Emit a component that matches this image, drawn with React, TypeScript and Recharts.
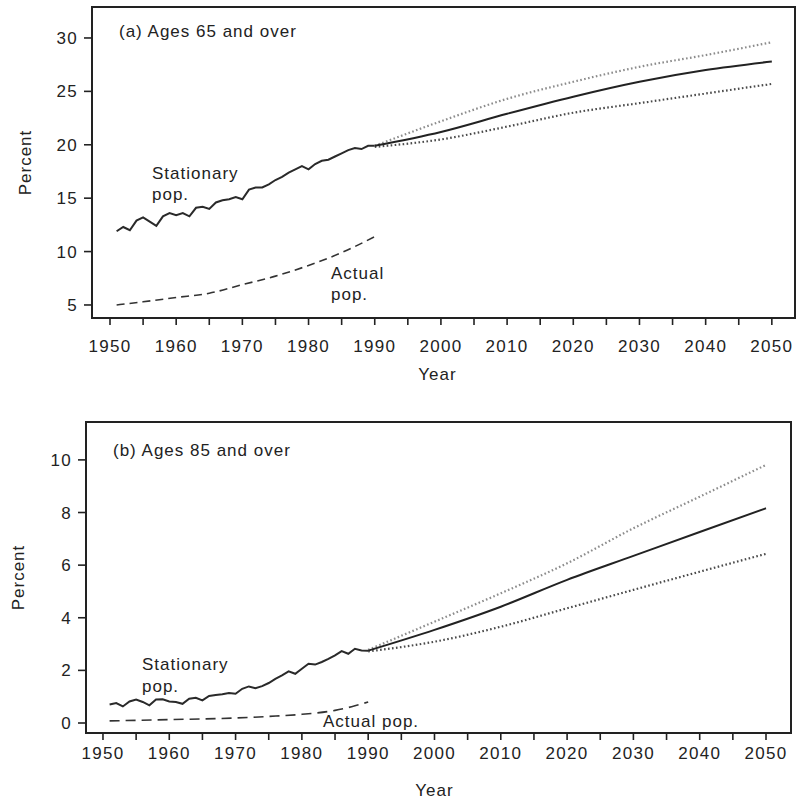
import { LineChart, Line, XAxis, YAxis, ReferenceArea } from "recharts";

const histYears = [
  1951, 1952, 1953, 1954, 1955, 1956, 1957, 1958, 1959, 1960,
  1961, 1962, 1963, 1964, 1965, 1966, 1967, 1968, 1969, 1970,
  1971, 1972, 1973, 1974, 1975, 1976, 1977, 1978, 1979, 1980,
  1981, 1982, 1983, 1984, 1985, 1986, 1987, 1988, 1989, 1990,
];

// (a) ages 65 and over
const stationaryA = [
  11.9, 12.3, 12.0, 12.9, 13.2, 12.8, 12.4, 13.3, 13.6, 13.4,
  13.6, 13.3, 14.1, 14.2, 14.0, 14.6, 14.8, 14.9, 15.1, 14.9,
  15.8, 16.0, 16.0, 16.3, 16.7, 17.0, 17.4, 17.7, 18.0, 17.7,
  18.2, 18.5, 18.6, 18.9, 19.2, 19.5, 19.7, 19.6, 19.9, 19.9,
];
const actualYearsA = [1951, 1955, 1960, 1965, 1970, 1975, 1980, 1985, 1990];
const actualA = [5.0, 5.3, 5.7, 6.1, 6.9, 7.7, 8.7, 9.9, 11.4];

const projYears = [1990, 2000, 2010, 2020, 2030, 2040, 2050];
const middleA = [19.9, 21.2, 22.9, 24.5, 25.9, 27.0, 27.8];
const highA = [19.9, 22.2, 24.3, 25.9, 27.3, 28.4, 29.6];
const lowA = [19.8, 20.5, 21.7, 23.0, 23.9, 24.8, 25.7];

// (b) ages 85 and over
const stationaryB = [
  0.7, 0.76, 0.63, 0.82, 0.89, 0.8, 0.67, 0.89, 0.9, 0.82,
  0.8, 0.73, 0.92, 0.96, 0.86, 1.03, 1.06, 1.09, 1.14, 1.11,
  1.3, 1.39, 1.32, 1.4, 1.52, 1.68, 1.81, 1.96, 1.87, 2.06,
  2.25, 2.22, 2.32, 2.44, 2.57, 2.73, 2.63, 2.82, 2.76, 2.75,
];
const actualYearsB = [1951, 1960, 1970, 1975, 1980, 1985, 1987.5, 1990];
const actualB = [0.08, 0.13, 0.19, 0.25, 0.33, 0.48, 0.62, 0.8];

const middleB = [2.75, 3.54, 4.42, 5.44, 6.35, 7.26, 8.16];
const highB = [2.78, 3.85, 4.93, 6.07, 7.4, 8.6, 9.81];
const lowB = [2.72, 3.09, 3.66, 4.36, 5.06, 5.75, 6.43];

const yearTicks = [
  1950, 1955, 1960, 1965, 1970, 1975, 1980, 1985, 1990, 1995, 2000,
  2005, 2010, 2015, 2020, 2025, 2030, 2035, 2040, 2045, 2050,
];
const percentTicksA = [5, 10, 15, 20, 25, 30];
const percentTicksB = [0, 2, 4, 6, 8, 10];

const FONT = '"Liberation Sans", Arial, Helvetica, sans-serif';
const INK = "#222";

const rows = (xs: number[], ys: number[]) =>
  xs.map((year, i) => ({ year, value: ys[i] }));

const tickStyle = { fontSize: 17, letterSpacing: 1.3, fill: INK, fontFamily: FONT };
const noteStyle = { fontSize: 17, letterSpacing: 1, fill: INK, fontFamily: FONT };

type PanelProps = {
  height: number;
  top: number;
  right: number;
  yAxisWidth: number;
  xAxisHeight: number;
  bottom: number;
  xDomain: [number, number];
  yDomain: [number, number];
  yTicks: number[];
  xTickMargin: number;
  yearOffset: number;
  yearDx: number;
  percentX: number;
  stationary: number[];
  actualYears: number[];
  actual: number[];
  middle: number[];
  high: number[];
  low: number[];
  dash: string;
  notes: { x: number; y: number; text: string }[];
};

function Panel(p: PanelProps) {
  return (
    <LineChart
      width={796}
      height={p.height}
      margin={{ top: p.top, right: p.right, left: 0, bottom: p.bottom }}
      style={{ fontFamily: FONT }}
    >
      <XAxis
        type="number"
        dataKey="year"
        domain={p.xDomain}
        allowDataOverflow
        ticks={yearTicks}
        interval={0}
        tickFormatter={(v: number) => (v % 10 === 0 ? String(v) : "")}
        height={p.xAxisHeight}
        axisLine={false}
        tickSize={7}
        tickLine={{ stroke: INK, strokeWidth: 1.6 }}
        tickMargin={p.xTickMargin}
        tick={tickStyle}
        label={{
          value: "Year",
          position: "insideBottom",
          offset: p.yearOffset,
          dx: p.yearDx,
          style: { ...noteStyle },
        }}
      />
      <YAxis
        type="number"
        domain={p.yDomain}
        allowDataOverflow
        ticks={p.yTicks}
        interval={0}
        width={p.yAxisWidth}
        axisLine={false}
        tickSize={8}
        tickLine={{ stroke: INK, strokeWidth: 1.6 }}
        tickMargin={6}
        tick={tickStyle}
        label={{
          value: "Percent",
          angle: -90,
          position: "insideLeft",
          offset: p.percentX,
          style: { ...noteStyle, textAnchor: "middle" },
        }}
      />
      <ReferenceArea
        x1={p.xDomain[0]}
        x2={p.xDomain[1]}
        y1={p.yDomain[0]}
        y2={p.yDomain[1]}
        fill="none"
        stroke={INK}
        strokeWidth={2}
        fillOpacity={0}
      />
      <Line
        data={rows(histYears, p.stationary)}
        dataKey="value"
        type="linear"
        stroke="#2a2a2a"
        strokeWidth={2}
        dot={false}
        isAnimationActive={false}
      />
      <Line
        data={rows(p.actualYears, p.actual)}
        dataKey="value"
        type="monotone"
        stroke="#333"
        strokeWidth={1.6}
        strokeDasharray={p.dash}
        dot={false}
        isAnimationActive={false}
      />
      <Line
        data={rows(projYears, p.high)}
        dataKey="value"
        type="monotone"
        stroke="#8c8c8c"
        strokeWidth={2.2}
        strokeDasharray="1.6 2.4"
        dot={false}
        isAnimationActive={false}
      />
      <Line
        data={rows(projYears, p.low)}
        dataKey="value"
        type="monotone"
        stroke="#4a4a4a"
        strokeWidth={2.2}
        strokeDasharray="1.6 2.4"
        dot={false}
        isAnimationActive={false}
      />
      <Line
        data={rows(projYears, p.middle)}
        dataKey="value"
        type="monotone"
        stroke="#222"
        strokeWidth={2}
        dot={false}
        isAnimationActive={false}
      />
      {p.notes.map((n) => (
        <text key={n.text + n.y} x={n.x} y={n.y} style={noteStyle}>
          {n.text}
        </text>
      ))}
    </LineChart>
  );
}

export default function App() {
  return (
    <div
      style={{
        position: "absolute",
        left: 0,
        top: 0,
        width: 796,
        height: 802,
        background: "#fff",
        fontFamily: FONT,
      }}
    >
      <div style={{ position: "absolute", left: 0, top: 0 }}>
        <Panel
          height={400}
          top={7}
          right={1}
          yAxisWidth={92}
          xAxisHeight={64}
          bottom={18}
          xDomain={[1947.28, 2053.5]}
          yDomain={[3.78, 32.9]}
          yTicks={percentTicksA}
          xTickMargin={15}
          yearOffset={2}
          yearDx={-6}
          percentX={25}
          stationary={stationaryA}
          actualYears={actualYearsA}
          actual={actualA}
          middle={middleA}
          high={highA}
          low={lowA}
          dash="8 5"
          notes={[
            { x: 119, y: 37, text: "(a) Ages 65 and over" },
            { x: 152, y: 179, text: "Stationary" },
            { x: 152, y: 200, text: "pop." },
            { x: 331, y: 279, text: "Actual" },
            { x: 331, y: 300, text: "pop." },
          ]}
        />
      </div>
      <div style={{ position: "absolute", left: 0, top: 400 }}>
        <Panel
          height={402}
          top={22}
          right={5}
          yAxisWidth={86}
          xAxisHeight={66}
          bottom={3}
          xDomain={[1947.44, 2053.77]}
          yDomain={[-0.38, 11.44]}
          yTicks={percentTicksB}
          xTickMargin={7}
          yearOffset={3}
          yearDx={-4}
          percentX={18}
          stationary={stationaryB}
          actualYears={actualYearsB}
          actual={actualB}
          middle={middleB}
          high={highB}
          low={lowB}
          dash="10 6"
          notes={[
            { x: 113, y: 56, text: "(b) Ages 85 and over" },
            { x: 142, y: 270, text: "Stationary" },
            { x: 142, y: 292, text: "pop." },
            { x: 323, y: 327, text: "Actual pop." },
          ]}
        />
      </div>
    </div>
  );
}
